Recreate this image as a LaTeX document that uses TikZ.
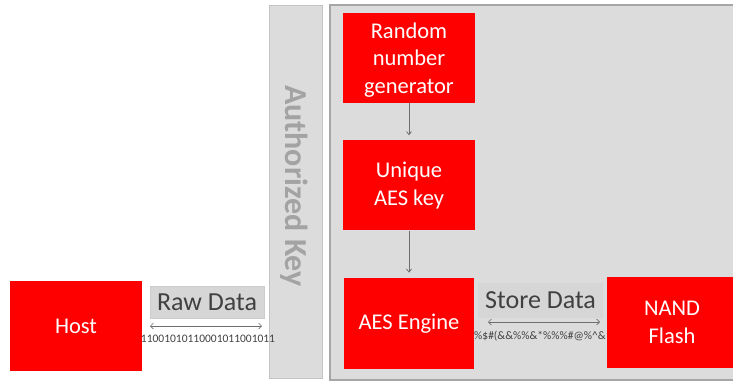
\documentclass[tikz,border=0pt]{standalone}
\usepackage{fontspec}
\setmainfont{Carlito}
\usetikzlibrary{positioning,arrows.meta}

\definecolor{boxred}{HTML}{FF0000}
\definecolor{panelfill}{HTML}{DCDCDC}
\definecolor{panelline}{HTML}{A6A6A6}
\definecolor{keyline}{HTML}{C4C4C4}
\definecolor{keytext}{HTML}{A3A3A3}
\definecolor{tagfill}{HTML}{D6D6D6}
\definecolor{tagline}{HTML}{CCCCCC}
\definecolor{tagtext}{HTML}{404040}
\definecolor{arrowgray}{HTML}{6E6E6E}

\tikzset{
  block/.style={fill=boxred, text=white, inner sep=0pt, minimum width=132pt, minimum height=90pt, align=center, font=\fontsize{22.5}{27.5}\selectfont},
  tag/.style={fill=tagfill, text=tagtext, inner sep=0pt, font=\fontsize{26}{30}\selectfont},
  code/.style={text=tagtext, inner sep=0pt, font=\fontsize{11.5}{13}\selectfont},
  flow/.style={draw=arrowgray, line width=0.8pt, -{Straight Barb[length=3pt,width=5pt]}, shorten >=5pt},
  both/.style={draw=arrowgray, line width=0.6pt, {Straight Barb[length=3pt,width=6pt]}-{Straight Barb[length=3pt,width=6pt]}}
}

\begin{document}
\begin{tikzpicture}[x=1pt, y=-1pt]
        \useasboundingbox (0,0) rectangle (733,381); %
        \clip (0,0) rectangle (733,381); %
        %
        \draw[fill=panelfill, draw=keyline, line width=0.8pt] (269,5) rectangle (322,378); %
        \draw[fill=panelfill, draw=panelline, line width=1.6pt] (330,5) rectangle (760,380); %
        \node[rotate=-90, text=keytext, font=\fontsize{32}{34}\bfseries] (authkey) at (294,186) {Authorized Key}; %
        %
        \node[block, text depth=-2pt] (rng) at (409,58) {Random\\number\\generator}; %
        \node[block, below = 37pt of rng] (aeskey) {Unique\\AES key}; %
        \node[block, below = 47pt of aeskey, minimum width=130pt, minimum height=91pt] (engine) {AES Engine}; %
        \node[block] (host) at (76,326) {Host}; %
        %
        \node[tag, draw=tagline, minimum width=114pt, minimum height=32pt] (rawtag) at (207,302) {Raw Data}; %
        \node[tag, minimum width=125pt, minimum height=35pt] (storetag) at (540.5,300.5) {Store Data}; %
        \coordinate (rawL) at (150,326); %
        \coordinate (rawR) at (262,326); %
        \coordinate (storeL) at (488,322); %
        \coordinate (storeR) at (600,322); %
        \node[code] (bits) at (208,339) {11001010110001011001011}; %
        \node[code, anchor=west] (scramble) at (474,336) {\%\$\#(\&\&\%\%\&*\%\%\%\#@\%\^{}\&*}; %
        \node[block, minimum width=130pt, minimum height=91pt] (nand) at (672,322.5) {NAND\\Flash}; %
        %
        \draw[flow] (rng) -- (aeskey); %
        \draw[flow] (aeskey) -- (engine); %
        \draw[both] (rawL) -- (rawR); %
        \draw[both] (storeL) -- (storeR); %
\end{tikzpicture}
\end{document}
